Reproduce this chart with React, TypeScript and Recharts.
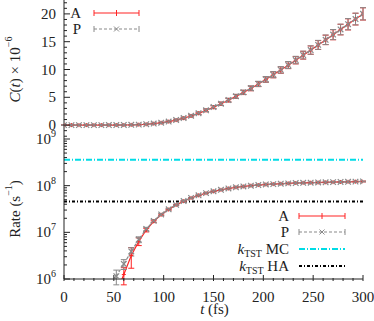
import React from 'react';
import { ComposedChart, Line, XAxis, YAxis, ErrorBar, ReferenceLine, Legend } from 'recharts';

// time grid (fs)
const times = [0, 7.5, 15, 22.5, 30, 37.5, 45, 52.5, 60, 67.5, 75, 82.5, 90, 97.5, 105, 112.5, 120, 127.5, 135, 142.5,
  150, 157.5, 165, 172.5, 180, 187.5, 195, 202.5, 210, 217.5, 225, 232.5, 240, 247.5, 255, 262.5, 270, 277.5, 285, 292.5, 300];

// C(t) x 1e-6
const corrA = [0, 0, 0, 0, 0, 0, 0, 0.01, 0.02, 0.04, 0.08, 0.15, 0.26, 0.42, 0.63, 0.9, 1.24, 1.65, 2.12, 2.65,
  3.22, 3.83, 4.48, 5.16, 5.87, 6.6, 7.38, 8.2, 9.05, 9.9, 10.78, 11.67, 12.57, 13.48, 14.4, 15.32, 16.25, 17.18, 18.12, 19.06, 20.0];
const corrAErr = [0.05, 0.05, 0.05, 0.05, 0.05, 0.05, 0.05, 0.05, 0.05, 0.05, 0.06, 0.07, 0.08, 0.1, 0.12, 0.14, 0.16, 0.18, 0.2, 0.23,
  0.26, 0.29, 0.32, 0.35, 0.38, 0.42, 0.46, 0.5, 0.54, 0.58, 0.62, 0.66, 0.7, 0.75, 0.8, 0.85, 0.9, 0.95, 1.0, 1.05, 1.1];
const corrP = [0, 0, 0, 0, 0, 0, 0.01, 0.01, 0.03, 0.05, 0.09, 0.16, 0.27, 0.43, 0.64, 0.92, 1.26, 1.67, 2.14, 2.67,
  3.24, 3.85, 4.5, 5.18, 5.9, 6.63, 7.41, 8.22, 9.07, 9.93, 10.8, 11.7, 12.6, 13.5, 14.43, 15.35, 16.28, 17.2, 18.15, 19.08, 20.02];
const corrPErr = [0.05, 0.05, 0.05, 0.05, 0.05, 0.05, 0.05, 0.05, 0.05, 0.06, 0.06, 0.07, 0.09, 0.1, 0.12, 0.14, 0.16, 0.18, 0.21, 0.24,
  0.27, 0.3, 0.33, 0.36, 0.39, 0.43, 0.47, 0.51, 0.55, 0.59, 0.63, 0.67, 0.71, 0.76, 0.81, 0.86, 0.91, 0.96, 1.01, 1.06, 1.1];

// rate (s^-1)
const rateA = [null, null, null, null, null, null, null, 5.0e5, 1.25e6, 3.2e6, 6.4e6, 1.12e7, 1.72e7, 2.38e7, 3.08e7, 3.85e7, 4.65e7, 5.45e7, 6.2e7, 6.9e7,
  7.55e7, 8.15e7, 8.7e7, 9.2e7, 9.6e7, 1.0e8, 1.03e8, 1.06e8, 1.08e8, 1.1e8, 1.12e8, 1.14e8, 1.15e8, 1.16e8, 1.17e8, 1.18e8, 1.19e8, 1.2e8, 1.21e8, 1.22e8, 1.23e8];
const rateAErr = [null, null, null, null, null, null, null, null, 5e5, 1.5e6, 1.2e6, 1.0e6, 1.0e6, 9e5, 9e5, 1.0e6, 1.1e6, 1.2e6, 1.3e6, 1.4e6,
  1.5e6, 1.6e6, 1.7e6, 1.8e6, 1.9e6, 2.0e6, 2.1e6, 2.1e6, 2.2e6, 2.2e6, 2.3e6, 2.3e6, 2.3e6, 2.4e6, 2.4e6, 2.4e6, 2.4e6, 2.5e6, 2.5e6, 2.5e6, 2.5e6];
const rateP = [null, null, null, null, null, null, 6.0e5, 1.15e6, 2.1e6, 3.9e6, 7.0e6, 1.18e7, 1.76e7, 2.42e7, 3.12e7, 3.88e7, 4.68e7, 5.47e7, 6.22e7, 6.92e7,
  7.57e7, 8.17e7, 8.72e7, 9.22e7, 9.62e7, 1.0e8, 1.03e8, 1.06e8, 1.08e8, 1.1e8, 1.12e8, 1.14e8, 1.15e8, 1.16e8, 1.17e8, 1.18e8, 1.19e8, 1.2e8, 1.21e8, 1.22e8, 1.23e8];
const ratePErr = [null, null, null, null, null, null, null, 4e5, 5e5, 8e5, 1.0e6, 1.0e6, 1.0e6, 9e5, 9e5, 1.0e6, 1.1e6, 1.2e6, 1.3e6, 1.4e6,
  1.5e6, 1.6e6, 1.7e6, 1.8e6, 1.9e6, 2.0e6, 2.1e6, 2.1e6, 2.2e6, 2.2e6, 2.3e6, 2.3e6, 2.3e6, 2.4e6, 2.4e6, 2.4e6, 2.4e6, 2.5e6, 2.5e6, 2.5e6, 2.5e6];

const kTstMC = 3.6e8;
const kTstHA = 4.6e7;

const xMajor = [0, 50, 100, 150, 200, 250, 300];
const xMinor = [10, 20, 30, 40, 60, 70, 80, 90, 110, 120, 130, 140, 160, 170, 180, 190, 210, 220, 230, 240, 260, 270, 280, 290];
const corrMajor = [0, 5, 10, 15, 20];
const corrMinor = [-2, -1, 1, 2, 3, 4, 6, 7, 8, 9, 11, 12, 13, 14, 16, 17, 18, 19, 21, 22];
const rateMajor = [1e6, 1e7, 1e8, 1e9];
const rateMinor = [2e6, 3e6, 4e6, 5e6, 6e6, 7e6, 8e6, 9e6, 2e7, 3e7, 4e7, 5e7, 6e7, 7e7, 8e7, 9e7, 2e8, 3e8, 4e8, 5e8, 6e8, 7e8, 8e8, 9e8];

const FONT = '"Liberation Serif", "DejaVu Serif", serif';
const RED = '#ff2424';
const GREY = '#8a8a8a';
const CYAN = '#00dce6';
const FS = 15;
const txt = { fontFamily: FONT, fontSize: FS, fill: '#222' };

const corrData = times.map((t, i) => ({ t, a: corrA[i], aErr: corrAErr[i], p: corrP[i], pErr: corrPErr[i] }));
const rateData = times.map((t, i) => ({ t, a: rateA[i], aErr: rateAErr[i], p: rateP[i], pErr: ratePErr[i] }));

const plusDot = (props: any) => {
  const { cx, cy, index } = props;
  if (cx == null || cy == null || isNaN(cy)) return <g key={index} />;
  return <path key={index} d={`M${cx - 2},${cy}H${cx + 2}M${cx},${cy - 2}V${cy + 2}`} stroke={RED} strokeWidth={1} fill="none" />;
};
const crossDot = (props: any) => {
  const { cx, cy, index } = props;
  if (cx == null || cy == null || isNaN(cy)) return <g key={index} />;
  const s = 2.8;
  return <path key={index} d={`M${cx - s},${cy - s}L${cx + s},${cy + s}M${cx - s},${cy + s}L${cx + s},${cy - s}`} stroke={GREY} strokeWidth={1.2} fill="none" />;
};

const logLabel = (v: number) => (
  <>
    10<tspan dy={-6} style={{ fontSize: 10 }}>{Math.round(Math.log10(v))}</tspan>
  </>
);

const leftTick = (majors: number[], fmt: ((v: number) => any) | null) => (props: any) => {
  const { x, y, payload } = props;
  const major = majors.includes(payload.value);
  return (
    <g>
      <line x1={x} y1={y} x2={x + (major ? 6 : 3)} y2={y} stroke="#222" />
      {major && fmt && (
        <text x={x - 8} y={y} textAnchor="end" dominantBaseline="central" style={txt}>{fmt(payload.value)}</text>
      )}
    </g>
  );
};
const rightTick = (majors: number[]) => (props: any) => {
  const { x, y, payload } = props;
  const major = majors.includes(payload.value);
  return <line x1={x} y1={y} x2={x - (major ? 6 : 3)} y2={y} stroke="#222" />;
};
const bottomTick = (labels: boolean) => (props: any) => {
  const { x, y, payload } = props;
  const major = xMajor.includes(payload.value);
  return (
    <g>
      <line x1={x} y1={y} x2={x} y2={y - (major ? 6 : 3)} stroke="#222" />
      {major && labels && (
        <text x={x} y={y + 16} textAnchor="middle" dominantBaseline="central" style={txt}>{payload.value}</text>
      )}
    </g>
  );
};
const topTick = (props: any) => {
  const { x, y, payload } = props;
  const major = xMajor.includes(payload.value);
  return <line x1={x} y1={y} x2={x} y2={y + (major ? 6 : 3)} stroke="#222" />;
};

const rotatedLabel = (children: any) => (props: any) => {
  const vb = props.viewBox || { x: 0, y: 0, width: 64, height: 140 };
  const cx = vb.x + 15;
  const cy = vb.y + vb.height / 2;
  return (
    <text transform={`translate(${cx},${cy}) rotate(-90)`} textAnchor="middle" dominantBaseline="central" style={txt}>
      {children}
    </text>
  );
};

const errSample = (x1: number, x2: number, y: number, color: string, dashed: boolean, mark: 'plus' | 'cross') => {
  const xm = (x1 + x2) / 2;
  return (
    <g>
      <line x1={x1} y1={y} x2={x2} y2={y} stroke={color} strokeWidth={1.2} strokeDasharray={dashed ? '3 2' : undefined} />
      <line x1={x1} y1={y - 3} x2={x1} y2={y + 3} stroke={color} />
      <line x1={x2} y1={y - 3} x2={x2} y2={y + 3} stroke={color} />
      {mark === 'plus'
        ? <line x1={xm} y1={y - 3} x2={xm} y2={y + 3} stroke={color} />
        : <path d={`M${xm - 2.5},${y - 2.5}L${xm + 2.5},${y + 2.5}M${xm - 2.5},${y + 2.5}L${xm + 2.5},${y - 2.5}`} stroke={color} />}
    </g>
  );
};

const kTst = (tag: string) => (
  <>
    <tspan style={{ fontStyle: 'italic' }}>k</tspan>
    <tspan style={{ fontSize: 10 }} dy={4}>TST</tspan>
    <tspan dy={-4}>{' ' + tag}</tspan>
  </>
);

const TopLegend = () => (
  <svg width={80} height={36} style={{ display: 'block' }}>
    <text x={15} y={10} textAnchor="end" dominantBaseline="central" style={txt}>A</text>
    {errSample(28, 73, 10, RED, false, 'plus')}
    <text x={15} y={26} textAnchor="end" dominantBaseline="central" style={txt}>P</text>
    {errSample(28, 73, 26, GREY, true, 'cross')}
  </svg>
);

const BottomLegend = () => (
  <svg width={150} height={70} style={{ display: 'block' }}>
    <text x={89} y={9} textAnchor="end" dominantBaseline="central" style={txt}>A</text>
    {errSample(99, 145, 9, RED, false, 'plus')}
    <text x={89} y={25} textAnchor="end" dominantBaseline="central" style={txt}>P</text>
    {errSample(99, 145, 25, GREY, true, 'cross')}
    <text x={89} y={42} textAnchor="end" dominantBaseline="central" style={txt}>{kTst('MC')}</text>
    <line x1={99} y1={42} x2={145} y2={42} stroke={CYAN} strokeWidth={2} strokeDasharray="6 2 1 2" />
    <text x={89} y={59} textAnchor="end" dominantBaseline="central" style={txt}>{kTst('HA')}</text>
    <line x1={99} y1={59} x2={145} y2={59} stroke="#000" strokeWidth={2} strokeDasharray="3 2 1 2" />
  </svg>
);

export default function App() {
  return (
    <div style={{ position: 'absolute', left: 0, top: 0, width: 374, height: 321, background: '#fff', fontFamily: FONT }}>
      <div style={{ position: 'absolute', left: 0, top: 0 }}>
        <ComposedChart width={374} height={139} data={corrData} margin={{ top: 0, right: 11, bottom: 0, left: 0 }}>
          <XAxis dataKey="t" type="number" domain={[0, 300]} allowDataOverflow ticks={[...xMajor, ...xMinor]} interval={0}
            tickSize={0} tickLine={false} height={0} axisLine={{ stroke: '#222' }} tick={bottomTick(false)} />
          <XAxis xAxisId="top" orientation="top" dataKey="t" type="number" domain={[0, 300]} allowDataOverflow ticks={[...xMajor, ...xMinor]} interval={0}
            tickSize={0} tickLine={false} height={0} axisLine={{ stroke: '#222' }} tick={topTick} />
          <YAxis type="number" domain={[-2.5, 22.5]} allowDataOverflow ticks={[...corrMajor, ...corrMinor]} interval={0} width={64}
            tickSize={0} tickMargin={0} tickLine={false} axisLine={{ stroke: '#222' }} tick={leftTick(corrMajor, (v) => v)}
            label={{
              content: rotatedLabel(
                <>
                  <tspan style={{ fontStyle: 'italic' }}>C</tspan>(<tspan style={{ fontStyle: 'italic' }}>t</tspan>) × 10<tspan dy={-7} style={{ fontSize: 10 }}>−6</tspan>
                </>
              ),
            }} />
          <YAxis yAxisId="right" orientation="right" type="number" domain={[-2.5, 22.5]} allowDataOverflow ticks={[...corrMajor, ...corrMinor]} interval={0}
            width={0} tickSize={0} tickLine={false} axisLine={{ stroke: '#222' }} tick={rightTick(corrMajor)} />
          <Line dataKey="a" stroke={RED} strokeWidth={1.2} dot={plusDot} activeDot={false} isAnimationActive={false}>
            <ErrorBar dataKey="aErr" width={3} stroke={RED} strokeWidth={1} />
          </Line>
          <Line dataKey="p" stroke={GREY} strokeWidth={1.2} strokeDasharray="3 2" dot={crossDot} activeDot={false} isAnimationActive={false}>
            <ErrorBar dataKey="pErr" width={3} stroke={GREY} strokeWidth={1} />
          </Line>
          <Legend layout="horizontal" verticalAlign="middle" align="center" content={() => <TopLegend />}
            wrapperStyle={{ left: 66, top: 3, width: 80, height: 36 }} />
        </ComposedChart>
      </div>
      <div style={{ position: 'absolute', left: 0, top: 129 }}>
        <ComposedChart width={374} height={192} data={rateData} margin={{ top: 10, right: 11, bottom: 0, left: 0 }}>
          <XAxis dataKey="t" type="number" domain={[0, 300]} allowDataOverflow ticks={[...xMajor, ...xMinor]} interval={0}
            tickSize={0} tickLine={false} height={42} axisLine={{ stroke: '#222' }} tick={bottomTick(true)}
            label={{
              content: (p: any) => {
                const vb = p.viewBox;
                return (
                  <text x={vb.x + vb.width / 2 + 1} y={vb.y + 30} textAnchor="middle" dominantBaseline="central" style={txt}>
                    <tspan style={{ fontStyle: 'italic' }}>t</tspan> (fs)
                  </text>
                );
              },
            }} />
          <XAxis xAxisId="top" orientation="top" dataKey="t" type="number" domain={[0, 300]} allowDataOverflow ticks={[...xMajor, ...xMinor]} interval={0}
            tickSize={0} tickLine={false} height={0} axisLine={{ stroke: '#222' }} tick={topTick} />
          <YAxis type="number" scale="log" domain={[1e6, 1e9]} allowDataOverflow ticks={[...rateMajor, ...rateMinor]} interval={0} width={64}
            tickSize={0} tickMargin={0} tickLine={false} axisLine={{ stroke: '#222' }} tick={leftTick(rateMajor, logLabel)}
            label={{
              content: rotatedLabel(
                <>
                  Rate (s<tspan dy={-7} style={{ fontSize: 10 }}>−1</tspan><tspan dy={7}>)</tspan>
                </>
              ),
            }} />
          <YAxis yAxisId="right" orientation="right" type="number" scale="log" domain={[1e6, 1e9]} allowDataOverflow ticks={[...rateMajor, ...rateMinor]} interval={0}
            width={0} tickSize={0} tickLine={false} axisLine={{ stroke: '#222' }} tick={rightTick(rateMajor)} />
          <ReferenceLine y={kTstMC} stroke={CYAN} strokeWidth={2} strokeDasharray="6 2 1 2" />
          <ReferenceLine y={kTstHA} stroke="#000" strokeWidth={2} strokeDasharray="3 2 1 2" />
          <Line dataKey="a" stroke={RED} strokeWidth={1.2} dot={plusDot} activeDot={false} isAnimationActive={false}>
            <ErrorBar dataKey="aErr" width={3} stroke={RED} strokeWidth={1} />
          </Line>
          <Line dataKey="p" stroke={GREY} strokeWidth={1.2} strokeDasharray="3 2" dot={crossDot} activeDot={false} isAnimationActive={false}>
            <ErrorBar dataKey="pErr" width={3} stroke={GREY} strokeWidth={1} />
          </Line>
          <Legend layout="horizontal" verticalAlign="middle" align="center" content={() => <BottomLegend />}
            wrapperStyle={{ left: 200, top: 78, width: 150, height: 70 }} />
        </ComposedChart>
      </div>
    </div>
  );
}
